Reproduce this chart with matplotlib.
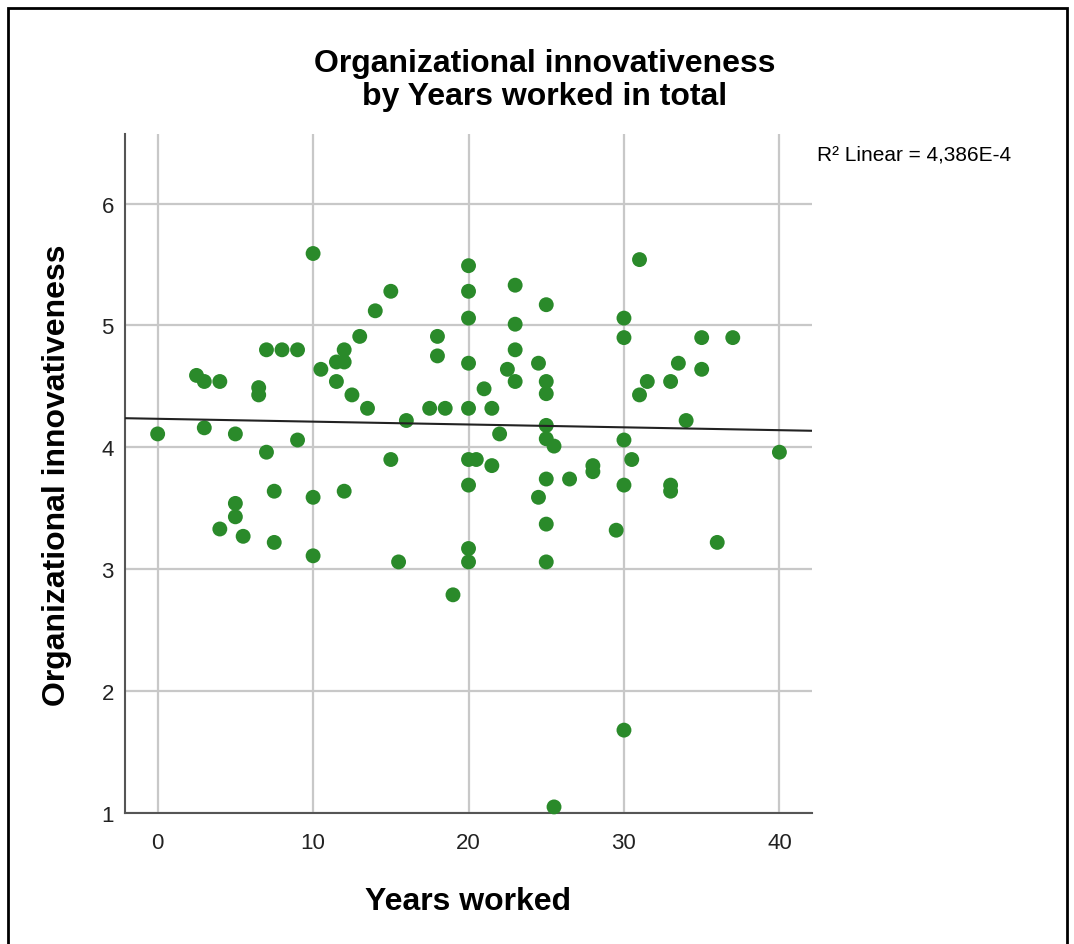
import numpy as np
import matplotlib.pyplot as plt
from matplotlib.patches import Rectangle

plt.rcParams['font.family'] = ['Liberation Sans', 'DejaVu Sans']

# years worked in total / organizational innovativeness score per respondent
years = [0, 2.5, 3, 4, 3, 5, 9, 7, 7.5, 10, 12, 5, 5, 4, 5.5, 7.5, 10,
         10, 13, 12, 11.5, 12, 10.5, 11.5, 12.5, 13.5, 7, 8, 9, 6.5, 6.5,
         20, 20, 20, 15, 14, 18, 18, 20, 21, 17.5, 18.5, 20, 16, 15, 20,
         20.5, 21.5, 23, 25, 23, 23, 22.5, 24.5, 23, 25, 25, 21.5, 25, 22,
         25, 25.5, 20, 25, 26.5, 28, 28, 24.5, 25, 20, 20, 25, 15.5, 19,
         31, 30, 30, 35, 37, 33.5, 35, 31.5, 33, 31, 34, 30, 40, 30.5, 30,
         33, 33, 29.5, 36, 30, 25.5]
innov = [4.11, 4.59, 4.54, 4.54, 4.16, 4.11, 4.06, 3.96, 3.64, 3.59, 3.64,
         3.54, 3.43, 3.33, 3.27, 3.22, 3.11,
         5.59, 4.91, 4.80, 4.70, 4.70, 4.64, 4.54, 4.43, 4.32, 4.80, 4.80,
         4.80, 4.49, 4.43,
         5.49, 5.28, 5.06, 5.28, 5.12, 4.91, 4.75, 4.69, 4.48, 4.32, 4.32,
         4.32, 4.22, 3.90, 3.90, 3.90, 3.85, 5.33, 5.17, 5.01, 4.80, 4.64,
         4.69, 4.54, 4.54, 4.44, 4.32, 4.18, 4.11, 4.07, 4.01, 3.69, 3.74,
         3.74, 3.85, 3.80, 3.59, 3.37, 3.17, 3.06, 3.06, 3.06, 2.79,
         5.54, 5.06, 4.90, 4.90, 4.90, 4.69, 4.64, 4.54, 4.54, 4.43, 4.22,
         4.06, 3.96, 3.90, 3.69, 3.69, 3.64, 3.32, 3.22, 1.68, 1.05]
r2_text = "R\u00b2 Linear = 4,386E-4"

x = np.array(years)
y = np.array(innov)

fig = plt.figure(figsize=(10.74, 9.45), dpi=100)
ax = fig.add_axes([0.1164, 0.1386, 0.6397, 0.7185])

ax.set_xlim(-2.1, 42.1)
ax.set_ylim(1, 6.57)
ax.set_xticks([0, 10, 20, 30, 40])
ax.set_yticks([1, 2, 3, 4, 5, 6])
ax.grid(True, color='#c8c8c8', lw=1.6)
ax.set_axisbelow(True)
ax.tick_params(length=0, labelsize=16, colors='#222222')
ax.tick_params(axis='x', pad=14)
ax.tick_params(axis='y', pad=8)

for s in ['top', 'right']:
    ax.spines[s].set_visible(False)
for s in ['left', 'bottom']:
    ax.spines[s].set_color('#555555')
    ax.spines[s].set_linewidth(1.5)

ax.scatter(x, y, s=115, color='#2a8a2a', edgecolors='none', zorder=3, clip_on=False)

# linear fit line across the whole x range
b, a = np.polyfit(x, y, 1)
xx = np.array(ax.get_xlim())
ax.plot(xx, a + b * xx, color='#222222', lw=1.5, zorder=4)

fig.text(0.507, 0.915, "Organizational innovativeness\nby Years worked in total",
         ha='center', va='center', fontsize=23, fontweight='bold', linespacing=1.12)
fig.text(0.761, 0.836, r2_text, ha='left', va='center', fontsize=15)
fig.text(468 / 1074, 1 - 902 / 945, "Years worked",
         ha='center', va='center', fontsize=23, fontweight='bold')
fig.text(57 / 1074, 1 - 475 / 945, "Organizational innovativeness", rotation=90,
         ha='center', va='center', fontsize=23, fontweight='bold')

# outer frame
fig.patches.append(Rectangle((8 / 1074, -0.05), 1059 / 1074, 1.05 - 9 / 945,
                             transform=fig.transFigure, fill=False,
                             edgecolor='black', lw=2))

fig.savefig('out.png', dpi=100)
